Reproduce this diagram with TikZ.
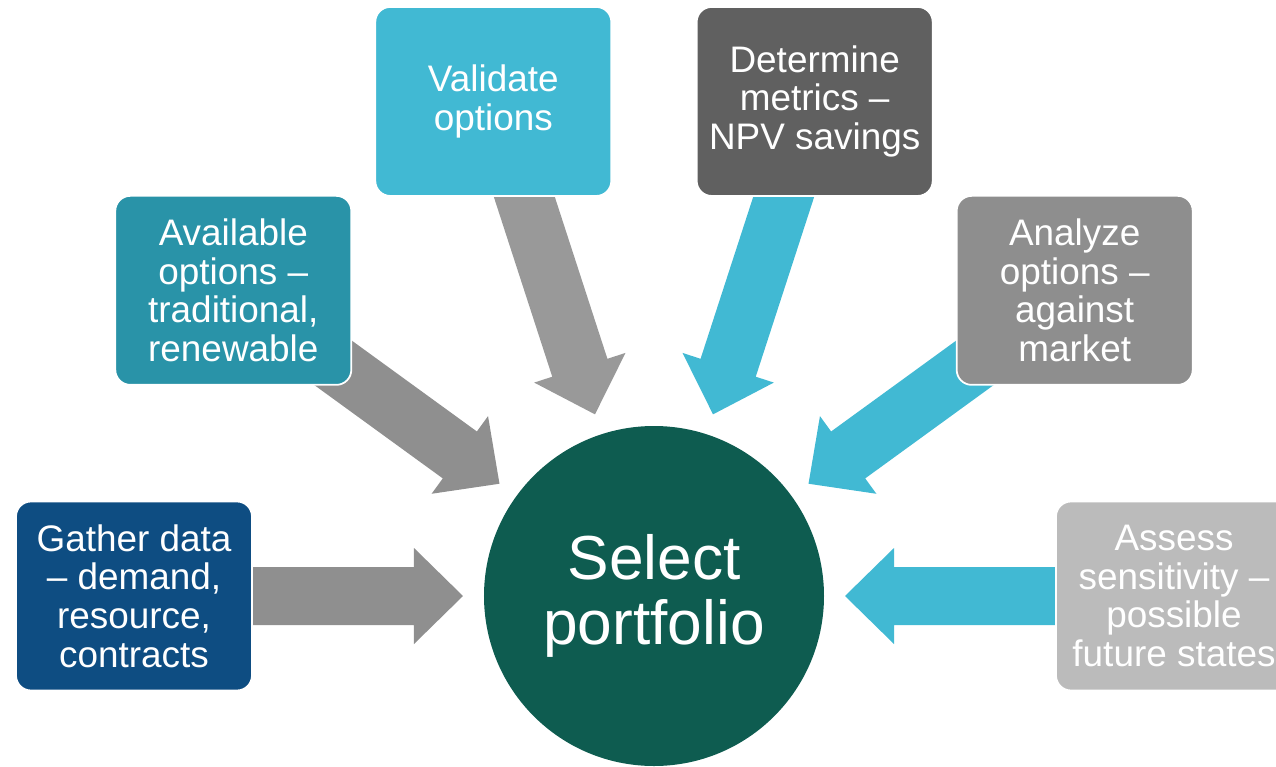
\documentclass[tikz,border=0pt]{standalone}
\usepackage{fontspec}
\setmainfont{Liberation Sans}
\usetikzlibrary{calc,backgrounds}

\definecolor{hubgreen}{RGB}{14,92,80}
\definecolor{stepnavy}{RGB}{14,77,130}
\definecolor{stepteal}{RGB}{41,147,168}
\definecolor{stepsky}{RGB}{65,185,211}
\definecolor{stepdark}{RGB}{96,96,96}
\definecolor{stepmid}{RGB}{142,142,142}
\definecolor{steplight}{RGB}{187,187,187}
\definecolor{arrgray}{RGB}{143,143,143}
\definecolor{arrlight}{RGB}{153,153,153}
\definecolor{arrblue}{RGB}{65,185,211}

% block arrow from box #1 towards hub #2
\newcommand{\blockarrow}[3]{%
  \coordinate (tip) at ($(#2.center)!3.82cm!(#1.center)$);
  \coordinate (base) at ($(#2.center)!4.80cm!(#1.center)$);
  \fill[#3] ($(#1.center)!0.58cm!90:(tip)$) -- ($(base)!0.58cm!90:(tip)$)
    -- ($(base)!0.96cm!90:(tip)$) -- (tip) -- ($(base)!0.96cm!-90:(tip)$)
    -- ($(base)!0.58cm!-90:(tip)$) -- ($(#1.center)!0.58cm!-90:(tip)$) -- cycle;}

\begin{document}
\begin{tikzpicture}[
  stepbox/.style={rectangle,rounded corners=0.3cm,draw=white,line width=1pt,
    minimum width=4.72cm,minimum height=3.78cm,text=white,align=center,
    font=\fontsize{21}{22}\selectfont},
  hub/.style={circle,fill=hubgreen,minimum size=6.8cm,text=white,align=center,
    font=\fontsize{35.4}{37.4}\selectfont}]
\useasboundingbox (-13.08,-3.4) rectangle (12.44,11.92);
\node[hub] (hub) at (0,0) {Select\\portfolio};
\foreach \a/\n/\c/\t in {180/gather/stepnavy/{Gather data\\– demand,\\resource,\\contracts},
  144/avail/stepteal/{Available\\options –\\traditional,\\renewable},
  108/valid/stepsky/{Validate\\options},
  72/metric/stepdark/{Determine\\metrics –\\NPV savings},
  36/analyze/stepmid/{Analyze\\options –\\against\\market},
  0/assess/steplight/{Assess\\sensitivity –\\possible\\future states}}
{\node[stepbox,fill=\c] (\n) at (\a:10.4) {\t};}
\begin{scope}[on background layer]
\foreach \n/\c in {gather/arrgray, avail/arrgray, valid/arrlight,
  metric/arrblue, analyze/arrblue, assess/arrblue}
{\blockarrow{\n}{hub}{\c}}
\end{scope}
\end{tikzpicture}
\end{document}
